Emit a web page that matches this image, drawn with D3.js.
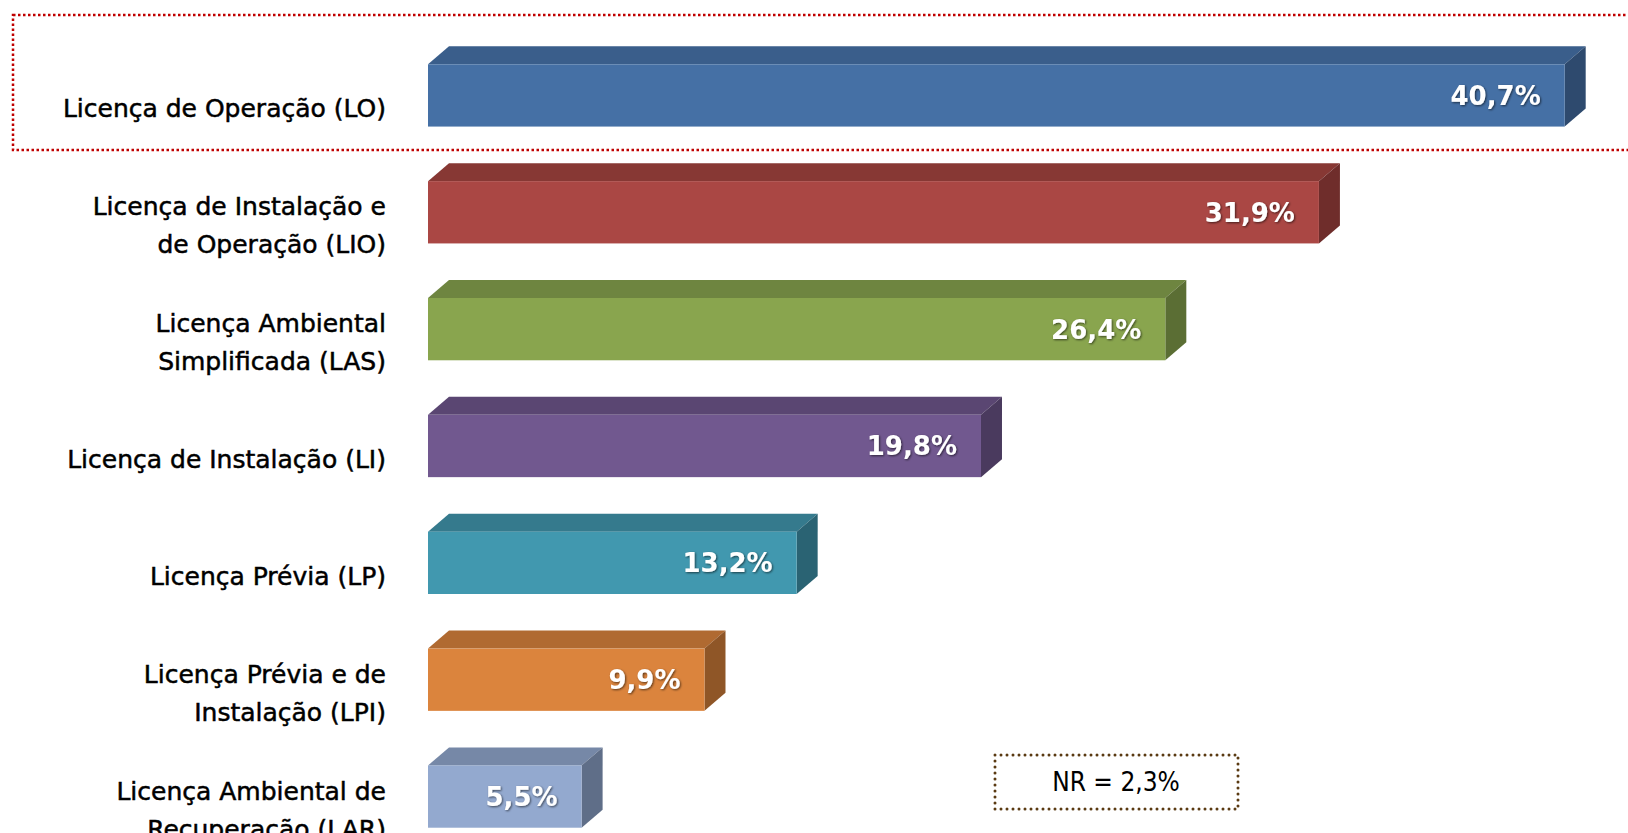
<!DOCTYPE html>
<html>
<head>
<meta charset="utf-8">
<script src="https://cdn.jsdelivr.net/npm/d3@7"></script>
<style>
  html, body { margin: 0; padding: 0; background: #fff; }
</style>
</head>
<body>
<div id="chart"></div>
<script>
// licence types, top to bottom
const categories = [
  ["Licença de Operação (LO)"],
  ["Licença de Instalação e", "de Operação (LIO)"],
  ["Licença Ambiental", "Simplificada (LAS)"],
  ["Licença de Instalação (LI)"],
  ["Licença Prévia (LP)"],
  ["Licença Prévia e de", "Instalação (LPI)"],
  ["Licença Ambiental de", "Recuperação (LAR)"]
];
const values = [40.7, 31.9, 26.4, 19.8, 13.2, 9.9, 5.5];
const valueLabels = ["40,7%", "31,9%", "26,4%", "19,8%", "13,2%", "9,9%", "5,5%"];
const nrLabel = "NR = 2,3%";

// front / top / side shades per bar
const colors = [
  ["#4570a5", "#3a5e8b", "#2e4a6e"],
  ["#aa4744", "#873834", "#6f2d2b"],
  ["#89a54e", "#6e8540", "#5b6e34"],
  ["#71588f", "#5a4672", "#4a3a5e"],
  ["#4198af", "#357a8d", "#2a6373"],
  ["#db843d", "#b06a31", "#8f5627"],
  ["#93a9cf", "#7688a7", "#5f6e88"]
];

const width = 1628, height = 833;
const depthX = 21, depthY = 18;
const font = "'DejaVu Sans', Verdana, sans-serif";

const svg = d3.select("#chart").append("svg")
  .attr("width", width)
  .attr("height", height);

const defs = svg.append("defs");
const shadow = defs.append("filter").attr("id", "txtShadow")
  .attr("x", "-20%").attr("y", "-30%").attr("width", "140%").attr("height", "160%");
shadow.append("feDropShadow")
  .attr("dx", 1).attr("dy", 1).attr("stdDeviation", 0.8)
  .attr("flood-color", "#000").attr("flood-opacity", 0.6);

const idx = d3.range(values.length);

const x = d3.scaleLinear().domain([0, 42]).range([428, 1601]);
const y = d3.scaleBand().domain(idx).range([37, 855])
  .paddingInner(0.467).paddingOuter(0.2335);

//highlight box around the first category
svg.append("rect")
  .attr("x", 13).attr("y", 15)
  .attr("width", width + 20).attr("height", 135)
  .attr("fill", "none")
  .attr("stroke", "#c00000")
  .attr("stroke-width", 2.5)
  .attr("stroke-dasharray", "2.5 2.5");

const bars = svg.selectAll("g.bar").data(idx).enter().append("g").attr("class", "bar");

bars.append("polygon")
  .attr("fill", i => colors[i][1])
  .attr("points", i => {
    const x0 = x(0), x1 = x(values[i]), yt = y(i);
    return [[x0, yt], [x0 + depthX, yt - depthY], [x1 + depthX, yt - depthY], [x1, yt]].join(" ");
  });

bars.append("polygon")
  .attr("fill", i => colors[i][2])
  .attr("points", i => {
    const x1 = x(values[i]), yt = y(i), yb = y(i) + y.bandwidth();
    return [[x1, yt], [x1 + depthX, yt - depthY], [x1 + depthX, yb - depthY], [x1, yb]].join(" ");
  });

bars.append("rect")
  .attr("x", x(0))
  .attr("y", i => y(i))
  .attr("width", i => x(values[i]) - x(0))
  .attr("height", y.bandwidth())
  .attr("fill", i => colors[i][0]);

bars.append("text")
  .attr("x", i => x(values[i]) - 24)
  .attr("y", i => y(i) + y.bandwidth() / 2)
  .attr("dy", "0.36em")
  .attr("text-anchor", "end")
  .attr("font-family", font)
  .attr("font-weight", "bold")
  .attr("font-size", 26)
  .attr("fill", "#fff")
  .attr("filter", "url(#txtShadow)")
  .text(i => valueLabels[i]);

// category labels, right aligned
const labels = svg.selectAll("text.cat").data(idx).enter().append("text")
  .attr("class", "cat")
  .attr("text-anchor", "end")
  .attr("font-family", font)
  .attr("font-size", 25)
  .attr("fill", "#000")
  .attr("stroke", "#000")
  .attr("stroke-width", 0.5)
  .attr("transform", i => "translate(386," + (y(i) + y.bandwidth() / 2 + 13) + ")");

labels.selectAll("tspan").data(i => categories[i].map((t, k) => ({t, k, n: categories[i].length})))
  .enter().append("tspan")
  .attr("x", 0)
  .attr("y", d => (d.k - (d.n - 1) / 2) * 38)
  .attr("dy", "0.36em")
  .text(d => d.t);

// not reported note
svg.append("rect")
  .attr("x", 995).attr("y", 755)
  .attr("width", 243).attr("height", 54)
  .attr("fill", "none")
  .attr("stroke", "#5a3a12")
  .attr("stroke-width", 3)
  .attr("stroke-linecap", "round")
  .attr("stroke-dasharray", "0 6");

svg.append("text")
  .attr("x", 1116).attr("y", 782)
  .attr("dy", "0.36em")
  .attr("text-anchor", "middle")
  .attr("font-family", "'DejaVu Sans Condensed', 'DejaVu Sans', sans-serif")
  .attr("font-stretch", "condensed")
  .attr("font-size", 26)
  .attr("fill", "#000")
  .text(nrLabel);
</script>
</body>
</html>
